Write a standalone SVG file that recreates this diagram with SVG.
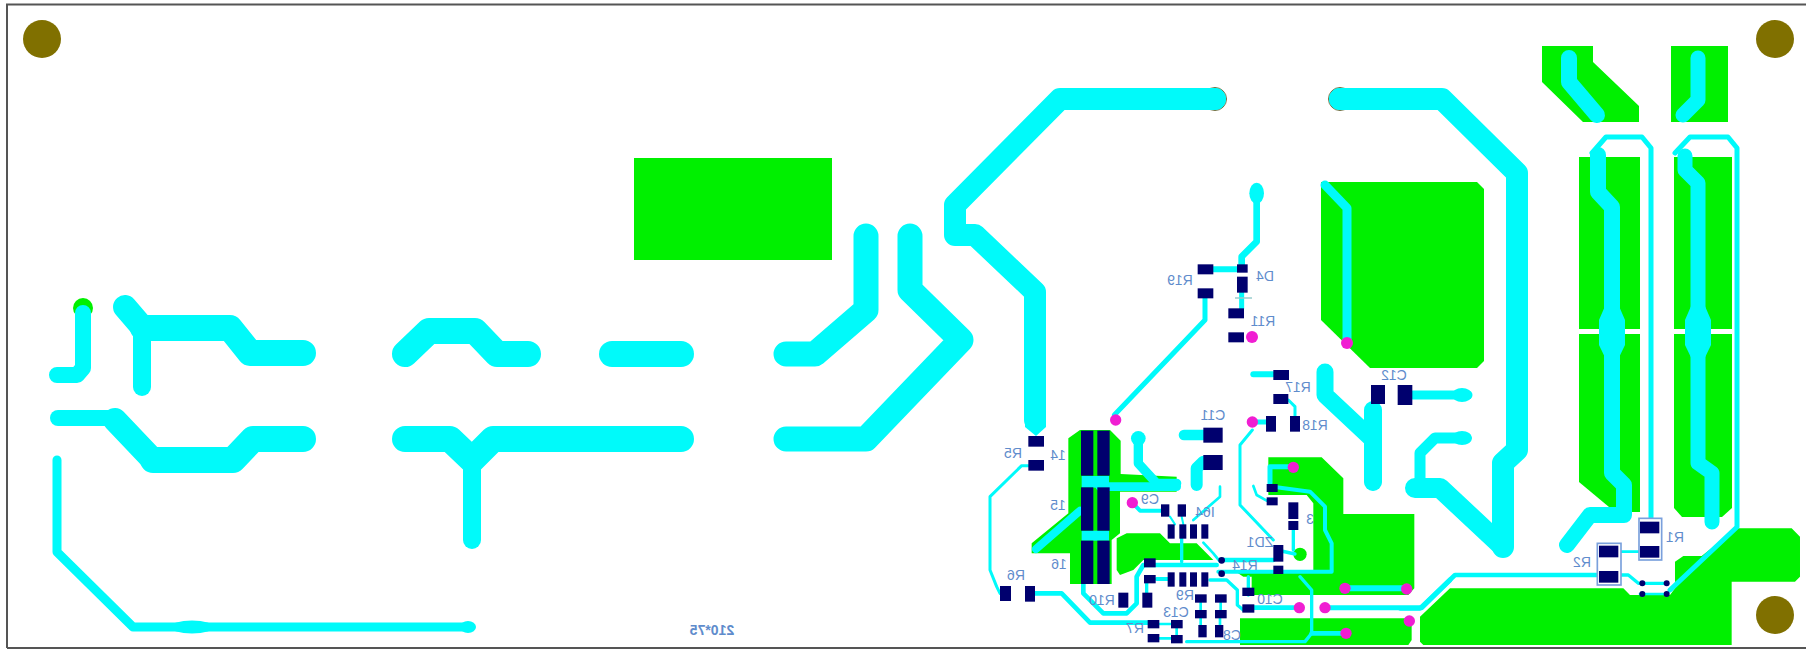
<svg xmlns="http://www.w3.org/2000/svg" width="1806" height="650" viewBox="0 0 1806 650">
<style>
.g{fill:#00f000}
.t{fill:none;stroke:#00fafa;stroke-linecap:round;stroke-linejoin:round}
.tf{fill:#00fafa}
.p{fill:#00006e}
.m{fill:#f01ed2}
.h{fill:#807000}
text{font-family:"Liberation Sans",Arial,sans-serif;font-size:14px;fill:#5f8ccc;text-anchor:middle}
</style>
<rect width="1806" height="650" fill="#fff"/>
<path d="M7 648V4.500H1806" fill="none" stroke="#555" stroke-width="2"/>
<path d="M7 648H1806" fill="none" stroke="#555" stroke-width="2"/>
<g id="mounting-holes">
<circle class="h" cx="42" cy="39" r="19"/><circle class="h" cx="1775" cy="39" r="19"/><circle class="h" cx="1775" cy="615" r="19"/>
</g>
<g id="copper-pours">
<rect class="g" x="634" y="158" width="198" height="102"/>
<path class="g" d="M1542 46H1593V62L1639 106V122H1583L1542 82Z"/>
<rect class="g" x="1671" y="46" width="57" height="76"/>
<path class="g" d="M1579 157H1640V512H1615L1579 482Z"/>
<path class="g" d="M1674 157H1732V508L1722 517H1682L1674 508Z"/>
<rect x="1579" y="329" width="61" height="5" fill="#fff"/><rect x="1674" y="329" width="63" height="5" fill="#fff"/>
<path class="g" d="M1321 182H1477L1484 189V361L1477 368H1370L1321 320Z"/>
<circle class="g" cx="83" cy="308" r="10"/>
<g transform="translate(1000 380) scale(.33333)">
<path class="g" d="M240 150H330L362 182V282L530 290V335H360V460L335 480V612H210V520H95V490L205 400V175Z"/>
<path class="g" d="M350 475L380 460H480L510 490H590L640 540H430L400 570L360 585L350 570Z"/>
<path class="g" d="M805 232H965L1030 295V402H1243V625L1225 645H755V590H730L700 570H940V370L920 345H805Z"/>
<circle class="g" cx="900" cy="523" r="20"/>
<path class="g" d="M720 715H1235V780L1225 795H720Z"/>
</g>
<g transform="translate(1400 380) scale(.33333)">
<path class="g" d="M60 710L150 625H670L690 645H810L825 625V545L850 528H905L1010 445H1175L1200 470V590L1185 605H995V795H70L60 785Z"/>
</g>
</g>
<g id="connectors">
<path class="t" stroke-width="16" d="M83 313V368L77 375H57"/>
<path class="t" stroke-width="24" d="M125 307L143 328"/>
<path class="t" stroke-width="26" d="M143 328H230L250 353H303"/>
<path class="t" stroke-width="18" d="M142 328V387"/>
<path class="t" stroke-width="16" d="M58 418H115"/>
<path class="t" stroke-width="24" d="M115 420L153 460"/>
<path class="t" stroke-width="26" d="M153 460H233L253 439H303"/>
<path class="t" stroke-width="9" d="M57 460V552L133 627H468"/>
<ellipse class="tf" cx="192" cy="627" rx="22" ry="6.500"/><ellipse class="tf" cx="468" cy="627" rx="8" ry="6"/>
<path class="t" stroke-width="26" d="M405 354L429 331H475L497 354H528"/>
<path class="t" stroke-width="26" d="M405 439H450L472 460L493 439H681"/>
<path class="t" stroke-width="18" d="M472 460V540"/>
<path class="t" stroke-width="26" d="M612 354H681"/>
<path class="t" stroke-width="25" d="M786 354H815L866 310V236"/>
<path class="t" stroke-width="25" d="M910 236V290L961 340L866 439H786"/>
<path class="t" stroke-width="22" d="M1215 99H1060L955 205V235H975L1035 292V420"/>
<path class="t" stroke-width="22" d="M1340 99H1442L1517 173V450L1503 463V547"/>
<circle cx="1215" cy="99" r="11.500" fill="none" stroke="#6b6b3c" stroke-width="1"/>
<circle cx="1340" cy="99" r="11.500" fill="none" stroke="#6b6b3c" stroke-width="1"/>
<path class="t" stroke-width="22" d="M1215 99H1200M1340 99H1355"/>
<path class="tf" d="M1025 415H1046V427L1036 436L1025 427Z"/>
<path class="t" stroke-width="16" d="M1569 58V82L1597 115"/>
<path class="t" stroke-width="15" d="M1698 58V100L1683 115"/>
<path class="t" stroke-width="5" d="M1592 153L1606 137H1642L1651 148V520"/>
<path class="t" stroke-width="5" d="M1675 153L1690 137H1728L1737 148V527L1670 590"/>
<path class="t" stroke-width="16" d="M1598 155V192L1612 207V473L1624 485V515H1590L1567 545"/>
<path class="t" stroke-width="15" d="M1685 156V170L1698 183V463L1712 473V522"/>
<path class="tf" d="M1612 290L1625 320V345L1612 372L1599 345V320ZM1698 290L1711 320V345L1698 372L1685 345V320Z"/>
<path class="t" stroke-width="9" d="M1325 185L1347 208V343"/>
<path class="t" stroke-width="17" d="M1325 372V395L1373 440V482"/>
<path class="t" stroke-width="18" d="M1373 410V482"/>
<path class="t" stroke-width="9" d="M1413 395H1468"/><ellipse class="tf" cx="1462" cy="395" rx="10" ry="7"/>
<path class="t" stroke-width="11" d="M1466 438H1435L1420 453V485"/><ellipse class="tf" cx="1462" cy="438" rx="10" ry="7"/>
<path class="t" stroke-width="20" d="M1415 488H1440L1503 547"/>
<g transform="translate(1000 380) scale(.33333)">
<path class="t" stroke-width="9" d="M85 257H65L-30 350V570L-10 620L0 640"/>
<path class="t" stroke-width="14" d="M105 640H185L270 728H445"/>
<path class="t" stroke-width="14" d="M250 612V640L310 700H380L410 670V590L430 555H650"/>
<path class="t" stroke-width="12" d="M655 575H995V490L975 450V380L930 335L830 322"/>
<path class="t" stroke-width="10" d="M880 510V450"/>
<path class="t" stroke-width="15" d="M810 310V260H880"/>
<path class="t" stroke-width="15" d="M757 126H798"/>
<path class="t" stroke-width="9" d="M757 150L720 195V375L820 480"/>
<path class="t" stroke-width="8" d="M760 318L770 345L800 362"/>
<path class="t" stroke-width="9" d="M865 60L885 80V108"/>
<path class="t" stroke-width="28" d="M415 175V250L470 310H530"/><circle class="tf" cx="415" cy="175" r="22"/>
<path class="t" stroke-width="26" d="M300 320H530"/>
<path class="t" stroke-width="32" d="M552 165H610"/>
<path class="t" stroke-width="36" d="M590 315V265L610 245"/>
<path class="t" stroke-width="8" d="M660 320V350L580 420"/>
<path class="t" stroke-width="12" d="M397 368L420 392H490"/>
<path class="t" stroke-width="6" d="M510 410L525 433M545 410L550 433"/>
<rect class="tf" x="245" y="288" width="82" height="35"/><rect class="tf" x="245" y="452" width="82" height="30"/>
<path class="t" stroke-width="24" d="M108 507L240 392"/>
<path class="t" stroke-width="10" d="M545 476V545"/>
<path class="t" stroke-width="8" d="M610 488L640 520L660 545"/>
<path class="t" stroke-width="14" d="M670 540H820"/>
<path class="t" stroke-width="12" d="M470 597H505"/>
<path class="t" stroke-width="10" d="M630 600H680L712 630V675L730 690"/>
<path class="t" stroke-width="10" d="M440 610V640"/>
<path class="t" stroke-width="14" d="M763 683H880"/>
<path class="t" stroke-width="10" d="M745 645V590"/>
<path class="t" stroke-width="18" d="M1035 625H1220"/>
<path class="t" stroke-width="10" d="M900 590L935 630V760L915 785H560"/>
<path class="t" stroke-width="14" d="M935 760H1038"/>
<path class="t" stroke-width="8" d="M602 668V690M662 668V690M478 732H513M478 775H513M530 745V765M602 715V735M660 715V735"/>
<path class="t" stroke-width="10" d="M830 510L885 522"/>
<path class="t" stroke-width="15" d="M975 683H1265L1350 600"/>
</g>
<g transform="translate(1400 380) scale(.33333)">
<path class="t" stroke-width="14" d="M0 685H60L165 585H590"/>
<path class="t" stroke-width="8" d="M660 515H720"/>
<path class="t" stroke-width="10" d="M660 585H685L715 610H800"/>
<path class="t" stroke-width="8" d="M720 642H800"/>
</g>
<g transform="translate(920 60) scale(.33333)">
<path class="t" stroke-width="18" d="M880 628H951"/>
<path class="t" stroke-width="20" d="M965 613V590L1010 545V430"/>
<ellipse class="tf" cx="1010" cy="400" rx="22" ry="32"/>
<path class="t" stroke-width="15" d="M965 700V745"/>
<path class="t" stroke-width="15" d="M855 715V780L583 1065"/>
<path class="t" stroke-width="18" d="M1000 943H1058"/>
</g>
<path d="M1235 298H1252" stroke="#9cc" stroke-width="1.500"/>
</g>
<g id="vias">
<circle class="m" cx="1252" cy="337" r="6"/><circle class="m" cx="1347" cy="343" r="6"/>
<g transform="translate(1000 380) scale(.33333)">
<circle class="m" cx="347" cy="120" r="17"/><circle class="m" cx="397" cy="368" r="17"/><circle class="m" cx="757" cy="126" r="17"/><circle class="m" cx="880" cy="262" r="17"/><circle class="m" cx="1035" cy="625" r="17"/><circle class="m" cx="1220" cy="627" r="17"/><circle class="m" cx="898" cy="683" r="17"/><circle class="m" cx="975" cy="683" r="17"/><circle class="m" cx="1228" cy="723" r="17"/><circle class="m" cx="1038" cy="760" r="17"/>
<circle class="p" cx="665" cy="541" r="10"/><circle class="p" cx="665" cy="581" r="10"/>
</g>
<g transform="translate(1400 380) scale(.33333)">
<circle class="p" cx="727" cy="610" r="9"/><circle class="p" cx="800" cy="610" r="9"/><circle class="p" cx="727" cy="642" r="9"/><circle class="p" cx="800" cy="642" r="9"/>
</g>
</g>
<g transform="translate(1000 380) scale(.33333)">
<g id="R5"><rect class="p" x="85" y="168" width="47" height="32"/><rect class="p" x="85" y="240" width="47" height="32"/></g>
<g id="U14"><rect class="p" x="243" y="152" width="37" height="135"/><rect class="p" x="292" y="152" width="37" height="135"/></g>
<g id="U15"><rect class="p" x="243" y="322" width="37" height="130"/><rect class="p" x="292" y="322" width="37" height="130"/></g>
<g id="U16"><rect class="p" x="243" y="482" width="37" height="130"/><rect class="p" x="292" y="482" width="37" height="130"/></g>
<g id="R6"><rect class="p" x="0" y="618" width="33" height="45"/><rect class="p" x="75" y="618" width="30" height="47"/></g>
<g id="R10"><rect class="p" x="355" y="638" width="30" height="45"/><rect class="p" x="427" y="638" width="30" height="45"/></g>
<g id="C11"><rect class="p" x="610" y="143" width="58" height="45"/><rect class="p" x="610" y="225" width="58" height="45"/></g>
<g id="R18"><rect class="p" x="798" y="108" width="30" height="47"/><rect class="p" x="870" y="108" width="30" height="47"/></g>
<g id="R17"><rect class="p" x="820" y="-30" width="47" height="30"/><rect class="p" x="820" y="42" width="45" height="30"/></g>
<g id="C12"><rect class="p" x="1113" y="15" width="42" height="57"/><rect class="p" x="1193" y="15" width="44" height="60"/></g>
<g id="C9"><rect class="p" x="483" y="373" width="25" height="37"/><rect class="p" x="533" y="373" width="25" height="37"/></g>
<g id="U64"><rect class="p" x="503" y="433" width="21" height="43"/><rect class="p" x="538" y="433" width="21" height="43"/><rect class="p" x="570" y="433" width="21" height="43"/><rect class="p" x="604" y="433" width="21" height="43"/><rect class="p" x="503" y="577" width="21" height="43"/><rect class="p" x="538" y="577" width="21" height="43"/><rect class="p" x="570" y="577" width="21" height="43"/><rect class="p" x="604" y="577" width="21" height="43"/></g>
<g id="R14"><rect class="p" x="432" y="535" width="35" height="27"/><rect class="p" x="432" y="585" width="35" height="25"/></g>
<g id="R9"><rect class="p" x="585" y="643" width="35" height="25"/><rect class="p" x="645" y="643" width="35" height="25"/></g>
<g id="C13"><rect class="p" x="585" y="690" width="35" height="25"/><rect class="p" x="645" y="690" width="35" height="25"/></g>
<g id="R7"><rect class="p" x="443" y="720" width="35" height="25"/><rect class="p" x="443" y="762" width="35" height="25"/><rect class="p" x="513" y="720" width="35" height="25"/><rect class="p" x="513" y="765" width="35" height="25"/></g>
<g id="C8"><rect class="p" x="595" y="735" width="25" height="37"/><rect class="p" x="645" y="735" width="25" height="37"/></g>
<g id="C10"><rect class="p" x="727" y="623" width="36" height="25"/><rect class="p" x="727" y="673" width="36" height="25"/></g>
<g id="ZD1"><rect class="p" x="820" y="495" width="30" height="50"/><rect class="p" x="820" y="557" width="30" height="25"/></g>
<g id="D3"><rect class="p" x="800" y="312" width="33" height="24"/><rect class="p" x="800" y="352" width="33" height="24"/><rect class="p" x="865" y="367" width="30" height="50"/><rect class="p" x="865" y="423" width="30" height="27"/></g>
</g>
<g transform="translate(920 60) scale(.33333)">
<g id="D4"><rect class="p" x="951" y="613" width="32" height="25"/><rect class="p" x="951" y="650" width="32" height="48"/></g>
<g id="R19"><rect class="p" x="833" y="613" width="47" height="30"/><rect class="p" x="833" y="685" width="47" height="30"/></g>
<g id="R11"><rect class="p" x="925" y="745" width="47" height="30"/><rect class="p" x="925" y="817" width="47" height="30"/></g>
</g>
<g transform="translate(1400 380) scale(.33333)">
<g id="R1"><rect x="717" y="415" width="68" height="125" fill="#fff" stroke="#7aa0dc" stroke-width="5"/><rect class="p" x="720" y="425" width="58" height="35"/><rect class="p" x="720" y="498" width="58" height="35"/></g>
<g id="R2"><rect x="592" y="490" width="71" height="125" fill="#fff" stroke="#7aa0dc" stroke-width="5"/><rect class="p" x="597" y="497" width="58" height="35"/><rect class="p" x="597" y="573" width="58" height="35"/></g>
</g>
<g id="labels">
<text transform="translate(1013 458) scale(-1 1)">R5</text>
<text transform="translate(1058 460) scale(-1 1)">14</text>
<text transform="translate(1058 510) scale(-1 1)">15</text>
<text transform="translate(1059 569) scale(-1 1)">16</text>
<text transform="translate(1016 580) scale(-1 1)">R6</text>
<text transform="translate(1102 605) scale(-1 1)">R10</text>
<text transform="translate(1135 633) scale(-1 1)">R7</text>
<text transform="translate(1176 617) scale(-1 1)">C13</text>
<text transform="translate(1185 600) scale(-1 1)">R9</text>
<text transform="translate(1232 640) scale(-1 1)">C8</text>
<text transform="translate(1270 604) scale(-1 1)">C10</text>
<text transform="translate(1260 547) scale(-1 1)">ZD1</text>
<text transform="translate(1245 570) scale(-1 1)">R14</text>
<text transform="translate(1310 524) scale(-1 1)">3</text>
<text transform="translate(1205 517) scale(-1 1)">I64</text>
<text transform="translate(1150 504) scale(-1 1)">C9</text>
<text transform="translate(1213 420) scale(-1 1)">C11</text>
<text transform="translate(1315 430) scale(-1 1)">R18</text>
<text transform="translate(1298 392) scale(-1 1)">R17</text>
<text transform="translate(1394 380) scale(-1 1)">C12</text>
<text transform="translate(1263 326) scale(-1 1)">R11</text>
<text transform="translate(1265 281) scale(-1 1)">D4</text>
<text transform="translate(1180 285) scale(-1 1)">R19</text>
<text transform="translate(1675 542) scale(-1 1)">R1</text>
<text transform="translate(1582 567) scale(-1 1)">R2</text>
<text transform="translate(712 635) scale(-1 1)" font-weight="bold">210*75</text>
</g>
</svg>
